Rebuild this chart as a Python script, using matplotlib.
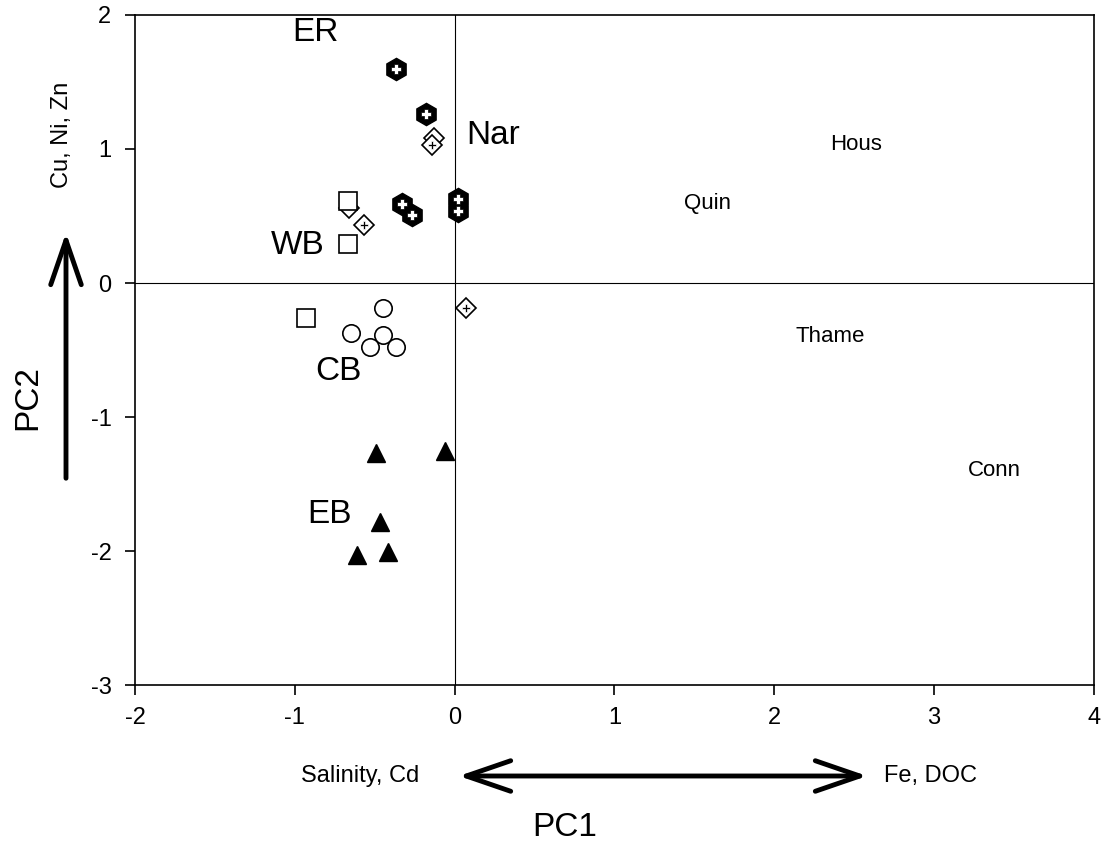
import matplotlib
matplotlib.use('Agg')
import matplotlib.pyplot as plt

plt.rcParams['font.family'] = ['Liberation Sans', 'DejaVu Sans']
plt.rcParams['axes.unicode_minus'] = False

# group data (PC1, PC2)
er_x = [-0.37, -0.18, -0.33, -0.27, 0.02, 0.02]
er_y = [1.60, 1.26, 0.59, 0.51, 0.63, 0.54]

nar_x = [-0.14, -0.57, 0.07]
nar_y = [1.03, 0.43, -0.19]
nar_open_x = [-0.13, -0.66]
nar_open_y = [1.08, 0.56]

wb_x = [-0.67, -0.67, -0.93]
wb_y = [0.61, 0.29, -0.26]

cb_x = [-0.45, -0.65, -0.45, -0.53, -0.37]
cb_y = [-0.19, -0.37, -0.39, -0.48, -0.48]

eb_x = [-0.49, -0.06, -0.47, -0.61, -0.42]
eb_y = [-1.27, -1.25, -1.78, -2.03, -2.01]

# group labels
grp_labels = ['ER', 'Nar', 'WB', 'CB', 'EB']
grp_lx = [-0.87, 0.24, -0.98, -0.73, -0.78]
grp_ly = [1.87, 1.10, 0.28, -0.66, -1.73]

# river labels
riv_labels = ['Hous', 'Quin', 'Thame', 'Conn']
riv_x = [2.51, 1.58, 2.35, 3.38]
riv_y = [1.03, 0.59, -0.40, -1.40]

fig = plt.figure(figsize=(11.03, 8.51), dpi=100)
ax = fig.add_axes([0.1224, 0.195, 0.8694, 0.7874])

ax.axhline(0, color='black', lw=0.8, zorder=1)
ax.axvline(0, color='black', lw=0.8, zorder=1)

# open diamonds sit behind other marks
ax.plot(nar_open_x, nar_open_y, 'D', ms=10, mfc='white', mec='black', mew=1.2, ls='none', zorder=2)
ax.plot(wb_x, wb_y, 's', ms=13, mfc='white', mec='black', mew=1.2, ls='none', zorder=3)
ax.plot(nar_x, nar_y, 'D', ms=10, mfc='white', mec='black', mew=1.2, ls='none', zorder=3)
ax.plot(nar_x, nar_y, 'P', ms=6, mfc='black', mec='white', mew=0.5, ls='none', zorder=4)
ax.plot(er_x, er_y, 'h', ms=16, mfc='black', mec='black', ls='none', zorder=3)
ax.plot(er_x, er_y, 'P', ms=7, mfc='white', mec='black', mew=0.5, ls='none', zorder=4)
ax.plot(cb_x, cb_y, 'o', ms=12.5, mfc='white', mec='black', mew=1.2, ls='none', zorder=3)
ax.plot(eb_x, eb_y, '^', ms=13, mfc='black', mec='black', ls='none', zorder=3)

for t, x, y in zip(grp_labels, grp_lx, grp_ly):
    ax.text(x, y, t, fontsize=24, ha='center', va='center')
for t, x, y in zip(riv_labels, riv_x, riv_y):
    ax.text(x, y, t, fontsize=16, ha='center', va='center')

ax.set_xlim(-2, 4)
ax.set_ylim(-3, 2)
ax.set_xticks(range(-2, 5))
ax.set_yticks(range(-3, 3))
ax.tick_params(direction='out', length=7, width=1.2, labelsize=17)
ax.tick_params(axis='x', pad=9)
ax.tick_params(axis='y', pad=10)
for s in ax.spines.values():
    s.set_linewidth(1.2)

# PC1 axis annotation
y1 = 1 - 776 / 851
fig.text(360/1103, y1, 'Salinity, Cd', fontsize=17, ha='center', va='center')
fig.text(930/1103, y1, 'Fe, DOC', fontsize=17, ha='center', va='center')
ax.annotate('', xy=(456/1103, y1), xytext=(870/1103, y1), xycoords='figure fraction',
            arrowprops=dict(arrowstyle='<->,head_length=3.2,head_width=1.1', lw=3.5, color='black'))
fig.text(565/1103, 1-828/851, 'PC1', fontsize=24, ha='center', va='center')

# PC2 axis annotation
ax.annotate('', xy=(66/1103, 1-230/851), xytext=(66/1103, 1-481/851), xycoords='figure fraction',
            arrowprops=dict(arrowstyle='->,head_length=3.2,head_width=1.1', lw=3.5, color='black'))
fig.text(62/1103, 1-135/851, 'Cu, Ni, Zn', fontsize=17, rotation=90, ha='center', va='center')
fig.text(28/1103, 1-398/851, 'PC2', fontsize=24, rotation=90, ha='center', va='center')

fig.savefig('out.png', dpi=100)
